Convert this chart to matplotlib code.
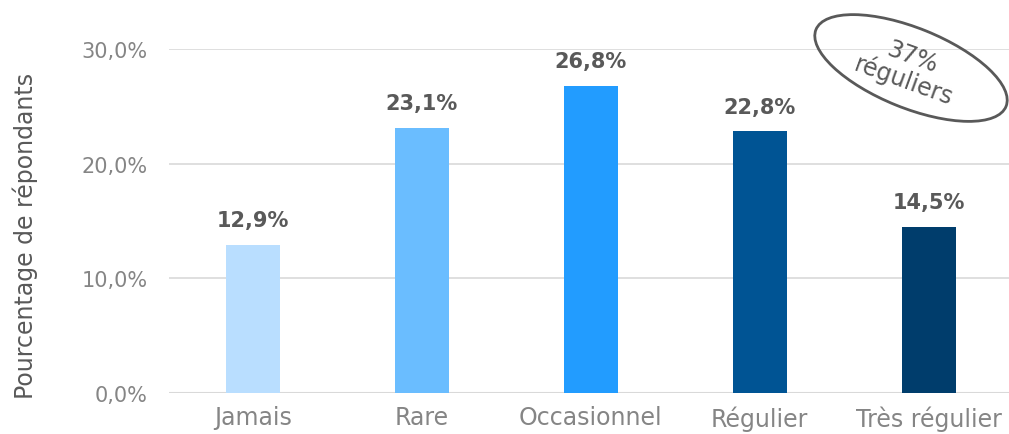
import matplotlib.pyplot as plt
from matplotlib.patches import Ellipse

# Data
categories = ['Jamais', 'Rare', 'Occasionnel', 'Régulier', 'Très régulier']
values = [12.9, 23.1, 26.8, 22.8, 14.5]
colors = ['#B9DEFF', '#6ABDFF', '#229CFF', '#005494', '#003D6C']
yticks = [0, 10, 20, 30]

plt.rcParams['font.family'] = ['DejaVu Sans']

fig = plt.figure(figsize=(10.09, 4.35), dpi=100)
ax = fig.add_axes([0.167, 0.0943, 0.837, 0.791])

x = range(len(categories))
ax.bar(x, values, width=0.32, color=colors, zorder=3)

for i, v in enumerate(values):
    ax.text(i, v + 1.3, f"{v:.1f}%".replace('.', ','), ha='center', va='bottom',
            fontsize=15, fontweight='bold', color='#595959')

ax.set_xlim(-0.5, 4.5)
ax.set_ylim(0, 30)
ax.set_yticks(yticks)
ax.set_yticklabels([f"{t:.1f}%".replace('.', ',') for t in yticks])
ax.set_xticks(list(x))
ax.set_xticklabels(categories)
ax.grid(axis='y', color='#D9D9D9', linewidth=1.2, zorder=0)
ax.tick_params(axis='y', length=0, labelsize=15, colors='#858585', pad=15)
ax.tick_params(axis='x', length=0, labelsize=17, colors='#858585', pad=9)
for s in ax.spines.values():
    s.set_visible(False)
ax.axhline(0, color='#D9D9D9', linewidth=1.5, zorder=2)
ax.set_ylabel('Pourcentage de répondants', fontsize=17, color='#595959')
ax.yaxis.set_label_coords(-0.155, 0.46)

# Annotation ellipse
ell = Ellipse((9.11, 3.66), 2.05, 0.8, angle=-22, transform=fig.dpi_scale_trans,
              fill=False, edgecolor='#595959', linewidth=2, clip_on=False)
fig.patches.append(ell)
fig.text(9.08 / 10.09, 3.66 / 4.35, '37%\nréguliers', ha='center', va='center',
         rotation=-20, fontsize=17, color='#595959', linespacing=1.0,
         rotation_mode='anchor')

fig.savefig('out.png', dpi=100)
